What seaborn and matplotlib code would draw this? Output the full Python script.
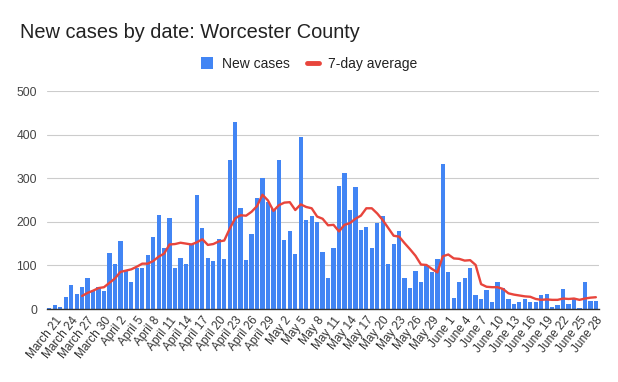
import numpy as np
import pandas as pd
import seaborn as sns
import matplotlib.pyplot as plt
from matplotlib.patches import Patch
from matplotlib.lines import Line2D

# daily new cases, Worcester County, starting March 20
start_date = "2020-03-20"
new_cases = [
    3, 9, 4, 28, 54, 35, 51, 70, 42, 50,
    41, 128, 103, 157, 88, 61, 95, 94, 123, 165,
    215, 141, 209, 95, 116, 103, 148, 261, 185, 116,
    109, 160, 114, 342, 429, 232, 112, 171, 255, 301,
    245, 230, 342, 158, 180, 126, 395, 203, 213, 199,
    130, 72, 139, 281, 311, 228, 279, 182, 187, 139,
    197, 214, 103, 148, 178, 72, 49, 88, 63, 100,
    84, 115, 332, 84, 26, 63, 70, 95, 32, 24,
    43, 15, 63, 48, 22, 12, 15, 22, 17, 17,
    33, 35, 5, 10, 47, 12, 26, 3, 61, 19,
    18,
]
seven_day_avg = [None] * 6 + [
    30, 37, 42, 48,
    50, 60, 70, 85, 88, 91, 97, 104, 104, 110,
    120, 127, 148, 149, 152, 150, 148, 153, 160, 147,
    149, 155, 157, 184, 208, 215, 214, 223, 236, 262,
    249, 225, 238, 244, 245, 227, 240, 234, 231, 212,
    207, 192, 193, 178, 193, 197, 207, 214, 231, 231,
    219, 204, 186, 168, 166, 151, 137, 122, 102, 101,
    92, 84, 121, 125, 116, 115, 111, 112, 101, 57,
    51, 50, 50, 46, 36, 33, 31, 29, 28, 23,
    21, 22, 21, 21, 24, 23, 24, 21, 24, 26,
    27,
]
tick_labels = [
    "March 21", "March 24", "March 27", "March 30", "April 2", "April 5",
    "April 8", "April 11", "April 14", "April 17", "April 20", "April 23",
    "April 26", "April 29", "May 2", "May 5", "May 8", "May 11", "May 14",
    "May 17", "May 20", "May 23", "May 26", "May 29", "June 1", "June 4",
    "June 7", "June 10", "June 13", "June 16", "June 19", "June 22",
    "June 25", "June 28",
]

BLUE = "#4285f4"
RED = "#e8453c"

dates = pd.date_range(start_date, periods=len(new_cases), freq="D")
df = pd.DataFrame({
    "date": [f"{d:%B} {d.day}" for d in dates],
    "cases": new_cases,
    "avg": pd.array(seven_day_avg, dtype="Float64").astype(float),
})
df["pos"] = np.arange(len(df))

sns.set_theme(style="white")
plt.rcParams["font.family"] = ["Liberation Sans", "DejaVu Sans"]

fig = plt.figure(figsize=(6.18, 3.82), dpi=100)
ax = fig.add_axes([46.6 / 618, 1 - 309 / 382, 552 / 618, 218 / 382])

sns.barplot(data=df, x="date", y="cases", color=BLUE, saturation=1,
            width=0.78, linewidth=0, ax=ax, zorder=2)
sns.lineplot(data=df, x="pos", y="avg", color=RED, linewidth=1.7,
             ax=ax, zorder=3)

ax.set_xlim(-0.5, len(df) - 0.5)
ax.set_ylim(0, 500)
ax.set_yticks([0, 100, 200, 300, 400, 500])
ax.yaxis.grid(True, color="#cccccc", linewidth=0.8)
ax.set_axisbelow(True)
ax.tick_params(axis="y", length=0, labelsize=8.7, labelcolor="#444444", pad=7)

tick_pos = df["pos"][1::3]
ax.set_xticks(tick_pos)
ax.set_xticklabels(tick_labels, rotation=52, ha="right",
                   rotation_mode="anchor", fontsize=8.5, color="#333333")
ax.tick_params(axis="x", length=0, pad=4)
ax.set_xlabel("")
ax.set_ylabel("")

for side in ["top", "right", "left"]:
    ax.spines[side].set_visible(False)
ax.spines["bottom"].set_color("#333333")
ax.spines["bottom"].set_linewidth(1)
ax.spines["bottom"].set_zorder(4)

fig.text(20 / 618, 1 - 38 / 382, "New cases by date: Worcester County",
         fontsize=14.4, color="#222222", va="baseline", ha="left")

handles = [Patch(facecolor=BLUE, edgecolor="none"),
           Line2D([0], [0], color=RED, linewidth=3.5)]
fig.legend(handles, ["New cases", "7-day average"], loc="center",
           bbox_to_anchor=(309 / 618, 1 - 64 / 382), ncol=2, frameon=False,
           fontsize=10, handlelength=0.9, handleheight=0.9,
           handletextpad=0.65, columnspacing=1.2, labelcolor="#222222")

fig.savefig("out.png", dpi=100)
